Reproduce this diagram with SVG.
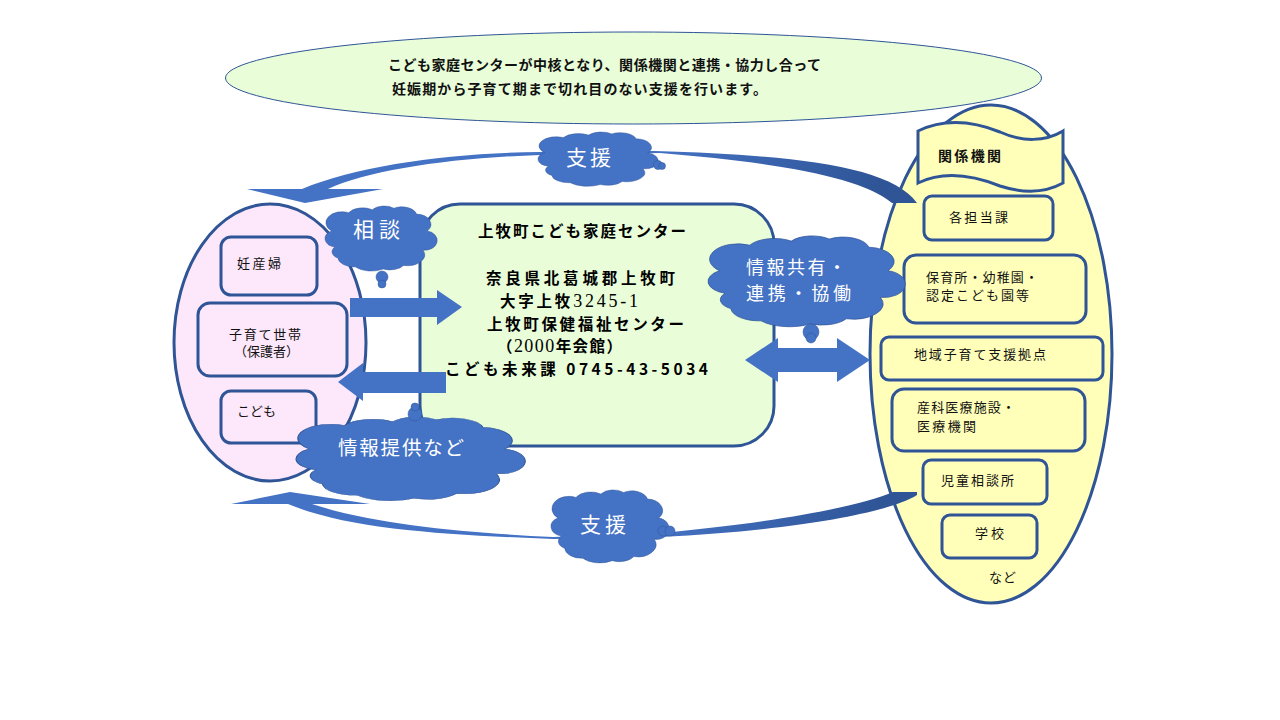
<svg xmlns="http://www.w3.org/2000/svg" xmlns:xlink="http://www.w3.org/1999/xlink" width="1280" height="720" viewBox="0 0 1280 720">
<style>
text{font-family:"Noto Sans CJK JP","Noto Sans",sans-serif;fill:#111;font-size:13px}
.b{font-weight:700;font-size:14px}
.c{font-size:15.500px;font-weight:700;fill:#000}
.s{font-family:"Liberation Serif","Noto Sans CJK JP",serif;font-weight:400;font-size:18px}
.w{fill:#fff;font-size:21px}
.box{stroke:#2f5597;stroke-width:3}
.pink{fill:#fde7fb}
.yel{fill:#ffffb9}
.blue{fill:#4472c4}
.cl{fill:#4472c4;stroke:#2f5597;stroke-width:.5}
</style>
<defs>
<linearGradient id="g1" gradientUnits="userSpaceOnUse" x1="650" y1="0" x2="880" y2="0"><stop offset="0" stop-color="#4472c4"/><stop offset="1" stop-color="#2f5597"/></linearGradient>
<path id="cloud" d="M9,60A12,12 0 0 1 6,38A15,15 0 0 1 22,13A15,13 0 0 1 44,9A13,11 0 0 1 64,7A14,13 0 0 1 85,15A14,14 0 0 1 95,38A11,13 0 0 1 91,64A16,15 0 0 1 73,85A15,13 0 0 1 54,90A19,15 0 0 1 28,87A15,13 0 0 1 12,75A11,10 0 0 1 9,60Z"/>
</defs>

<g id="intro">
<ellipse cx="633.500" cy="78" rx="408" ry="46" fill="#e8fdd8" stroke="#2f5597" stroke-width="1"/>
<text class="b" x="388" y="70" textLength="433">こども家庭センターが中核となり、関係機関と連携・協力し合って</text>
<text class="b" x="392" y="94" textLength="375">妊娠期から子育て期まで切れ目のない支援を行います。</text>
</g>

<g id="families">
<ellipse cx="270" cy="342.500" rx="96" ry="138.500" class="pink box"/>
</g>

<g id="related-agencies">
<ellipse cx="991" cy="354" rx="121" ry="249" class="yel box"/>
</g>

<g id="center">
<rect x="420" y="204" width="354" height="242" rx="40" fill="#e8fdd8" class="box"/>
<text class="c" x="478" y="237" textLength="208">上牧町こども家庭センター</text>
<text class="c" x="486" y="284" textLength="189">奈良県北葛城郡上牧町</text>
<text class="c" x="500" y="307" textLength="138">大字上牧<tspan class="s">3245-1</tspan></text>
<text class="c" x="487" y="329.500" textLength="197">上牧町保健福祉センター</text>
<text class="c" x="497" y="352" textLength="125">（<tspan class="s">2000</tspan>年会館）</text>
<text class="c" x="445" y="375" textLength="263">こども未来課 0745-43-5034</text>
</g>

<g id="connectors">
<path fill="url(#g1)" d="M917,203C890,165 790,155 655,151L540,152C450,153 360,165 302,189L247,189L305,203L383,189L328,189C370,170 450,158 540,155L660,153C770,162 860,176 892,203Z"/>
<path fill="url(#g1)" d="M917,492H893C860,506 780,522 660,533L553,537C470,533 375,525 312,504H370L290,492L231,504H288C350,530 450,535 553,539L660,537C800,530 890,512 917,495Z"/>
<path class="blue" d="M350,298H437V290L462,307L437,325V317H350Z"/>
<path class="blue" d="M446,372H363V363L338,382L363,401V393H446Z"/>
<path class="blue" d="M745,360L778,338V348H837V338L870,360L837,382V372H778V382Z"/>
</g>

<g id="box-pregnant"><rect x="221" y="237" width="96" height="58" rx="10" class="pink box"/><text x="237" y="268" textLength="44">妊産婦</text></g>
<g id="box-households"><rect x="198" y="303" width="149" height="73" rx="12" class="pink box"/><text x="229" y="339" textLength="72">子育て世帯</text><text x="234" y="356" textLength="65">（保護者）</text></g>
<g id="box-children"><rect x="221" y="391" width="95" height="52" rx="10" class="pink box"/><text x="237" y="416" textLength="39">こども</text></g>

<g id="banner"><path class="yel box" d="M918,131C945,118 975,122 1000,132C1022,142 1045,142 1063,131V183C1045,193 1025,194 1000,186C975,176 945,170 918,183Z"/><text class="b" x="938" y="161" textLength="63">関係機関</text></g>
<g id="box-dept"><rect x="924" y="196" width="129" height="44" rx="8" class="yel box"/><text x="949" y="222" textLength="59">各担当課</text></g>
<g id="box-nursery"><rect x="904" y="255" width="182" height="68" rx="12" class="yel box"/><text x="926" y="282" textLength="112">保育所・幼稚園・</text><text x="926" y="300" textLength="103">認定こども園等</text></g>
<g id="box-hub"><rect x="881" y="337" width="222" height="43" rx="8" class="yel box"/><text x="914" y="359" textLength="132">地域子育て支援拠点</text></g>
<g id="box-medical"><rect x="892" y="389" width="193" height="62" rx="12" class="yel box"/><text x="917" y="412" textLength="98">産科医療施設・</text><text x="917" y="431" textLength="59">医療機関</text></g>
<g id="box-child-guidance"><rect x="923" y="460" width="124" height="44" rx="8" class="yel box"/><text x="941" y="485" textLength="73">児童相談所</text></g>
<g id="box-school"><rect x="942" y="515" width="95" height="43" rx="8" class="yel box"/><text x="975" y="538" textLength="29">学校</text></g>
<text x="989" y="582" textLength="27">など</text>

<g id="cloud-consult">
<use xlink:href="#cloud" class="cl" transform="translate(325,203.100) scale(1.077,.733)"/>
<circle cx="382" cy="277" r="6" class="cl"/><circle cx="382" cy="284" r="4" class="cl"/>
<text class="w" x="353" y="237" textLength="47">相談</text>
</g>
<g id="cloud-info">
<use xlink:href="#cloud" class="cl" transform="translate(296,413.200) scale(2.200,.944)"/>
<circle cx="415" cy="414" r="7" class="cl"/><circle cx="415" cy="407" r="4" class="cl"/>
<text class="w" x="338" y="455" textLength="126" style="font-size:19.500px">情報提供など</text>
</g>
<g id="cloud-support-top">
<use xlink:href="#cloud" class="cl" transform="translate(538,129.600) scale(1.154,.611)"/>
<circle cx="658" cy="165" r="4.500" class="cl"/><circle cx="662" cy="166" r="3.500" class="cl"/>
<text class="w" x="566" y="165" textLength="45">支援</text>
</g>
<g id="cloud-support-bottom">
<use xlink:href="#cloud" class="cl" transform="translate(551,486.700) scale(1.135,.822)"/>
<circle cx="663" cy="531" r="5" class="cl"/><circle cx="670" cy="531" r="5" class="cl"/>
<text class="w" x="580" y="532" textLength="46">支援</text>
</g>
<g id="cloud-share">
<use xlink:href="#cloud" class="cl" transform="translate(708,231.900) scale(1.894,1.022)"/>
<circle cx="811" cy="332" r="8" class="cl"/><circle cx="811" cy="338" r="5" class="cl"/>
<text class="w" x="746" y="274" textLength="100" style="font-size:18px">情報共有・</text>
<text class="w" x="746" y="300" textLength="105" style="font-size:18px">連携・協働</text>
</g>
</svg>
